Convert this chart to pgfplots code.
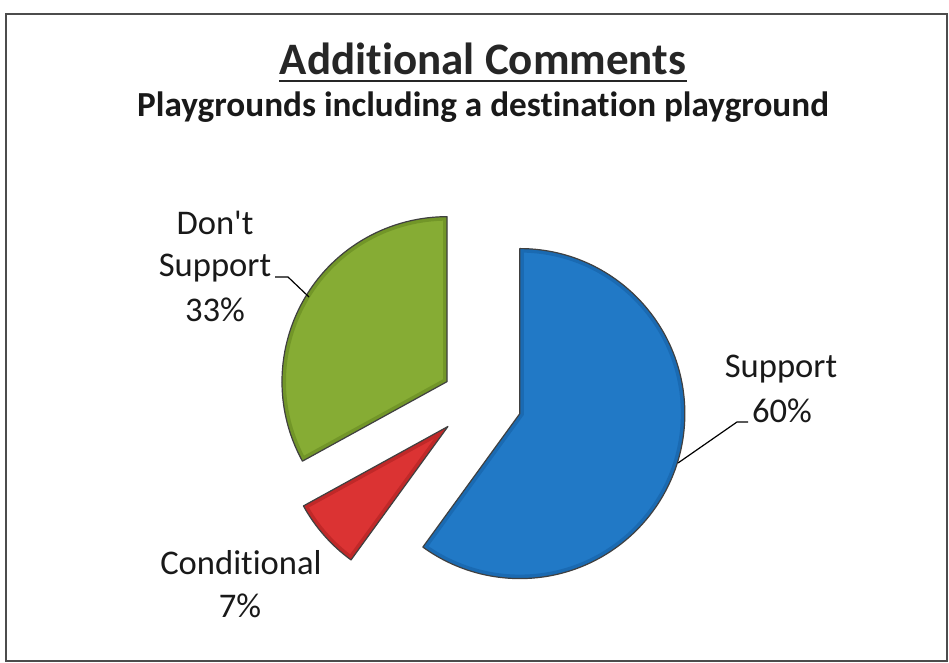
\documentclass[border=0pt]{standalone}
\usepackage{fontspec}
\setmainfont{Carlito}[Ligatures={NoCommon}]
\usepackage{pgfplots}
\pgfplotsset{compat=1.18}
\usetikzlibrary{calc}

\definecolor{pblue}{HTML}{2179C6}
\definecolor{pbluedk}{HTML}{0E4F8F}
\definecolor{pgreen}{HTML}{86AC34}
\definecolor{pgreendk}{HTML}{4F6E14}
\definecolor{pred}{HTML}{DB3333}
\definecolor{preddk}{HTML}{8E1414}

% data: percentage of each slice and explode distance (px)
\def\vSupport{60}
\def\vConditional{7}
\def\vDont{33}
\pgfmathsetmacro\aA{90}
\pgfmathsetmacro\aB{\aA-3.6*\vSupport}
\pgfmathsetmacro\aC{\aB-3.6*\vConditional}
\pgfmathsetmacro\aD{\aC-3.6*\vDont}

\newcommand{\slicepath}[3]{($(axis cs:478,263)+({(#1+#2)/2}:{#3*0.5pt})$) -- ++(#1:82.5pt) arc[start angle=#1, end angle=#2, radius=82.5pt] -- cycle}
\newcommand{\slice}[5]{%
  \fill[#1] \slicepath{#3}{#4}{#5};
  \begin{scope}
    \clip \slicepath{#3}{#4}{#5};
    \draw[#2, line width=4pt, opacity=0.35] \slicepath{#3}{#4}{#5};
  \end{scope}
  \draw[black!75, line width=0.6pt, line join=round] \slicepath{#3}{#4}{#5};
}

\begin{document}
\begin{tikzpicture}
\begin{axis}[
  scale only axis, width=474.5pt, height=331.5pt,
  xmin=0, xmax=949, ymin=0, ymax=663,
  axis lines=none, clip=false, ticks=none,
]
\addplot[draw=none] coordinates {(0,0) (949,663)};
% frame
\draw[black!70, line width=1pt] (axis cs:6,2) rectangle (axis cs:947,649);
% title
\node[anchor=base, inner sep=0pt, font=\fontsize{22.5}{27}\selectfont\bfseries, text=black!85] (t) at (axis cs:483,588) {Additional Comments};
\draw[black!85, line width=1.4pt] ([yshift=-3pt]t.base west) -- ([yshift=-3pt]t.base east);
\node[anchor=base, inner sep=0pt, font=\fontsize{17.6}{20}\selectfont\bfseries, text=black!90] at (axis cs:483,546) {Playgrounds including a destination playground};
% slices
\slice{pblue}{pbluedk}{\aA}{\aB}{44}
\slice{pred}{preddk}{\aB}{\aC}{40}
\slice{pgreen}{pgreendk}{\aC}{\aD}{36}
% leader lines
\draw[black, line width=0.6pt] (axis cs:678,200) -- (axis cs:737,241) -- (axis cs:748,241);
\draw[black, line width=0.6pt] (axis cs:275,386) -- (axis cs:288,386) -- (axis cs:309,366);
% labels
\tikzset{lab/.style={anchor=base, inner sep=0pt, font=\fontsize{17.3}{20}\selectfont, text=black!90}}
\node[lab] at (axis cs:781,285) {Support};
\node[lab] at (axis cs:782,240) {60\%};
\node[lab] at (axis cs:215,428) {Don\textquotesingle t};
\node[lab] at (axis cs:215,386) {Support};
\node[lab] at (axis cs:215,341) {33\%};
\node[lab] at (axis cs:241,88) {Conditional};
\node[lab] at (axis cs:240,45) {7\%};
\end{axis}
\end{tikzpicture}
\end{document}
